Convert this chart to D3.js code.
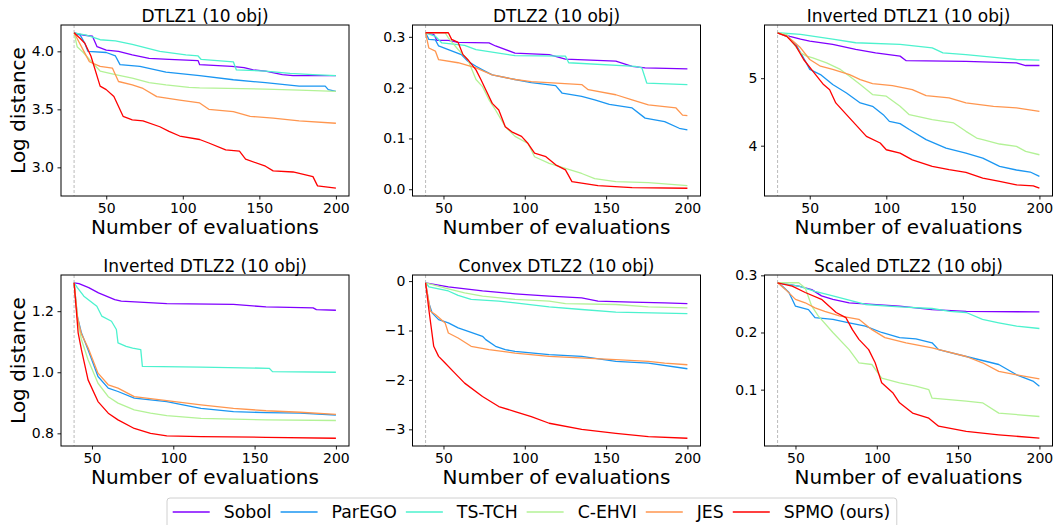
<!DOCTYPE html>
<html><head><meta charset="utf-8">
<script src="https://cdn.jsdelivr.net/npm/d3@7"></script>
<style>body{margin:0;background:#fff} text{font-family:"DejaVu Sans",sans-serif}</style>
</head><body><svg id="c" width="1060" height="525"></svg>
<script>
const methods = ["Sobol","ParEGO","TS-TCH","C-EHVI","JES","SPMO (ours)"];
const colors = ["#8000ff","#1a96f2","#4cf2ce","#b3f296","#ff964f","#ff0000"];
const titles = ["DTLZ1 (10 obj)","DTLZ2 (10 obj)","Inverted DTLZ1 (10 obj)","Inverted DTLZ2 (10 obj)","Convex DTLZ2 (10 obj)","Scaled DTLZ2 (10 obj)"];
const startEval = [29,39,29,39,39,39];
const xTicks = [50,100,150,200];
const yTicks = [[3.0,3.5,4.0],[0.0,0.1,0.2,0.3],[4,5],[0.8,1.0,1.2],[-3,-2,-1,0],[0.1,0.2,0.3]];
const yFormats = [".1f",".1f","d",".1f","d",".1f"];

// series order: Sobol, ParEGO, TS-TCH, C-EHVI, JES, SPMO
const dtlz1 = [
 [[29,4.16],[35,4.14],[41,4.13],[44,4.04],[50,4.01],[58,4.0],[67,3.97],[78,3.94],[91,3.93],[110,3.92],[111,3.885],[132,3.87],[140,3.86],[146,3.84],[154,3.83],[165,3.80],[172,3.79],[200,3.79]],
 [[29,4.16],[33,4.14],[36,4.07],[38,4.0],[50,3.99],[56,3.96],[59,3.885],[72,3.87],[89,3.82],[111,3.79],[133,3.755],[154,3.73],[176,3.70],[193,3.70],[195,3.67],[200,3.655]],
 [[29,4.16],[37,4.14],[46,4.10],[56,4.09],[67,4.06],[85,4.0],[102,3.97],[110,3.96],[112,3.93],[133,3.91],[135,3.84],[154,3.83],[170,3.81],[185,3.80],[200,3.79]],
 [[29,4.16],[31,4.04],[35,3.99],[39,3.93],[46,3.83],[56,3.80],[67,3.77],[78,3.73],[89,3.71],[104,3.69],[111,3.685],[154,3.675],[176,3.665],[200,3.655]],
 [[29,4.16],[35,4.01],[39,3.91],[46,3.87],[54,3.856],[58,3.74],[67,3.71],[74,3.68],[83,3.61],[98,3.58],[111,3.555],[117,3.50],[133,3.48],[144,3.44],[159,3.425],[176,3.40],[200,3.38]],
 [[29,4.16],[33,4.11],[36,4.07],[40,3.96],[46,3.70],[50,3.67],[55,3.61],[61,3.44],[67,3.41],[74,3.40],[85,3.35],[91,3.31],[98,3.27],[111,3.24],[117,3.21],[128,3.15],[137,3.14],[141,3.07],[154,3.01],[159,2.97],[172,2.96],[185,2.92],[188,2.84],[200,2.82]]
];
const dtlz2 = [
 [[39,0.308],[44,0.305],[46,0.293],[53,0.293],[59,0.289],[78,0.288],[82,0.282],[94,0.268],[115,0.265],[125,0.256],[156,0.252],[166,0.242],[174,0.239],[200,0.237]],
 [[39,0.308],[41,0.295],[45,0.294],[47,0.282],[53,0.275],[61,0.265],[65,0.252],[70,0.242],[74,0.235],[80,0.225],[94,0.216],[104,0.210],[119,0.204],[123,0.189],[135,0.183],[143,0.176],[152,0.167],[166,0.16],[174,0.14],[186,0.133],[195,0.12],[200,0.117]],
 [[39,0.308],[45,0.301],[49,0.288],[63,0.283],[70,0.275],[94,0.263],[125,0.262],[127,0.249],[168,0.242],[172,0.239],[175,0.209],[200,0.206]],
 [[39,0.308],[51,0.308],[53,0.298],[59,0.275],[65,0.255],[70,0.216],[74,0.202],[78,0.176],[82,0.156],[88,0.123],[94,0.104],[102,0.09],[106,0.064],[115,0.051],[125,0.041],[135,0.031],[143,0.021],[156,0.015],[176,0.013],[200,0.007]],
 [[39,0.308],[41,0.278],[45,0.272],[47,0.255],[59,0.249],[70,0.239],[80,0.225],[94,0.216],[104,0.212],[135,0.206],[139,0.196],[156,0.186],[166,0.176],[176,0.166],[193,0.16],[197,0.146],[200,0.145]],
 [[39,0.308],[53,0.308],[55,0.295],[59,0.289],[62,0.265],[65,0.255],[70,0.235],[73,0.216],[76,0.196],[80,0.169],[84,0.156],[88,0.123],[92,0.113],[98,0.104],[102,0.09],[106,0.071],[113,0.064],[119,0.048],[125,0.038],[129,0.015],[135,0.012],[145,0.007],[166,0.003],[200,0.002]]
];
const invDtlz1 = [
 [[29,5.673],[37,5.62],[44,5.58],[50,5.55],[65,5.50],[80,5.426],[93,5.376],[109,5.327],[113,5.26],[152,5.25],[185,5.228],[191,5.188],[200,5.188]],
 [[29,5.673],[35,5.62],[41,5.50],[46,5.30],[50,5.13],[57,5.054],[65,4.906],[74,4.78],[83,4.634],[91,4.584],[98,4.46],[102,4.36],[109,4.327],[115,4.24],[126,4.09],[139,3.965],[152,3.89],[163,3.817],[174,3.693],[185,3.64],[194,3.61],[200,3.545]],
 [[29,5.673],[44,5.65],[65,5.58],[80,5.525],[109,5.50],[130,5.45],[137,5.376],[152,5.35],[174,5.30],[185,5.277],[200,5.267]],
 [[29,5.673],[35,5.65],[39,5.525],[44,5.376],[48,5.327],[52,5.30],[61,5.228],[70,5.13],[76,5.03],[83,4.906],[91,4.757],[100,4.733],[109,4.584],[115,4.46],[130,4.386],[144,4.337],[152,4.213],[159,4.114],[163,4.09],[174,4.025],[185,3.99],[191,3.916],[200,3.866]],
 [[29,5.673],[35,5.62],[39,5.55],[44,5.45],[50,5.277],[57,5.178],[65,5.13],[76,5.054],[83,4.98],[91,4.92],[104,4.89],[117,4.83],[126,4.743],[141,4.71],[152,4.634],[170,4.584],[185,4.56],[200,4.51]],
 [[29,5.673],[35,5.62],[41,5.475],[46,5.277],[52,5.104],[59,4.906],[63,4.83],[67,4.634],[74,4.46],[80,4.312],[87,4.139],[96,4.04],[100,3.94],[109,3.89],[117,3.79],[130,3.693],[141,3.644],[152,3.604],[163,3.52],[174,3.47],[185,3.42],[196,3.406],[200,3.37]]
];
const invDtlz2 = [
 [[39,1.293],[42,1.29],[48,1.277],[54,1.26],[64,1.238],[68,1.233],[96,1.225],[137,1.222],[157,1.214],[186,1.211],[188,1.205],[200,1.203]],
 [[39,1.293],[41,1.184],[43.5,1.129],[47.6,1.074],[53.7,0.986],[60,0.948],[66,0.937],[76,0.915],[96,0.904],[106,0.893],[117,0.882],[137,0.871],[157,0.868],[178,0.866],[200,0.860]],
 [[39,1.293],[41,1.277],[45,1.249],[53,1.216],[56,1.184],[62,1.167],[65,1.14],[66,1.096],[71,1.085],[75,1.079],[80,1.074],[81,1.019],[117,1.017],[159,1.013],[161,1.002],[200,1.0]],
 [[39,1.293],[41.5,1.162],[43.5,1.107],[47.6,1.041],[53.7,0.964],[60,0.92],[66,0.899],[76,0.877],[86,0.866],[96,0.858],[117,0.849],[157,0.844],[200,0.842]],
 [[39,1.293],[41,1.18],[43.5,1.125],[47.6,1.08],[53.7,0.997],[60,0.959],[66,0.948],[76,0.92],[96,0.907],[117,0.893],[137,0.882],[157,0.874],[178,0.869],[200,0.862]],
 [[39,1.293],[41.5,1.129],[43.5,1.074],[47.6,0.975],[53.7,0.904],[60,0.866],[66,0.844],[76,0.816],[86,0.8],[96,0.792],[117,0.789],[157,0.787],[200,0.784]]
];
const convexDtlz2 = [
 [[39,-0.034],[53,-0.115],[74,-0.2],[94,-0.257],[115,-0.305],[135,-0.34],[145,-0.406],[166,-0.427],[186,-0.44],[200,-0.454]],
 [[39,-0.034],[41,-0.44],[43,-0.643],[47,-0.779],[53,-0.846],[59,-0.948],[67,-1.036],[74,-1.117],[76,-1.185],[82,-1.32],[88,-1.388],[94,-1.422],[115,-1.49],[135,-1.523],[156,-1.625],[176,-1.659],[200,-1.774]],
 [[39,-0.034],[41,-0.115],[53,-0.2],[59,-0.29],[67,-0.372],[84,-0.406],[94,-0.44],[115,-0.521],[135,-0.575],[156,-0.63],[200,-0.657]],
 [[39,-0.034],[53,-0.156],[63,-0.237],[74,-0.305],[94,-0.372],[115,-0.406],[125,-0.454],[156,-0.474],[176,-0.521],[200,-0.542]],
 [[39,-0.034],[42,-0.609],[45,-0.677],[51,-0.846],[53,-1.05],[59,-1.151],[67,-1.32],[78,-1.388],[94,-1.456],[115,-1.523],[156,-1.591],[176,-1.625],[186,-1.659],[200,-1.693]],
 [[39,-0.034],[41,-0.575],[44,-1.32],[47,-1.523],[51,-1.659],[57,-1.862],[63,-2.065],[74,-2.336],[84,-2.539],[94,-2.64],[104,-2.742],[115,-2.877],[135,-3.0],[156,-3.08],[176,-3.148],[200,-3.18]]
];
const scaledDtlz2 = [
 [[39,0.287],[52,0.281],[60,0.275],[66,0.264],[73,0.258],[83,0.252],[114,0.246],[134,0.24],[155,0.237],[200,0.236]],
 [[39,0.287],[42,0.281],[46,0.27],[50,0.246],[58,0.24],[62,0.226],[73,0.223],[83,0.217],[93,0.211],[103,0.2],[114,0.191],[124,0.189],[134,0.182],[138,0.17],[155,0.158],[175,0.144],[186,0.126],[196,0.115],[200,0.106]],
 [[39,0.287],[52,0.281],[62,0.272],[73,0.264],[93,0.249],[114,0.245],[134,0.242],[145,0.237],[155,0.235],[165,0.223],[175,0.217],[186,0.211],[200,0.207]],
 [[39,0.287],[52,0.287],[56,0.278],[60,0.246],[64,0.229],[73,0.2],[83,0.17],[89,0.147],[97,0.144],[103,0.12],[114,0.112],[124,0.106],[132,0.1],[134,0.085],[155,0.08],[165,0.077],[175,0.059],[200,0.053]],
 [[39,0.287],[44,0.275],[50,0.258],[56,0.252],[62,0.243],[68,0.237],[77,0.229],[89,0.223],[97,0.205],[105,0.191],[118,0.182],[134,0.173],[155,0.158],[165,0.147],[175,0.132],[186,0.126],[200,0.119]],
 [[39,0.287],[48,0.281],[56,0.27],[66,0.258],[75,0.235],[81,0.226],[85,0.205],[89,0.188],[95,0.17],[99,0.147],[103,0.112],[110,0.094],[114,0.077],[122,0.059],[132,0.05],[138,0.036],[155,0.027],[175,0.021],[200,0.015]]
];
const panelData = [dtlz1, dtlz2, invDtlz1, invDtlz2, convexDtlz2, scaledDtlz2];

const colLeft = [61, 412.5, 764.5], rowTop = [25, 275];
const W = 288, H = 171;
const svg = d3.select("#c");

panelData.forEach((series, i) => {
  const col = i % 3, row = Math.floor(i / 3);
  const g = svg.append("g").attr("transform", `translate(${colLeft[col]},${rowTop[row]})`);
  const s = startEval[i];
  const xr = 200 - s;
  const x = d3.scaleLinear().domain([s - 0.05 * xr, 200 + 0.05 * xr]).range([0, W]);
  const all = series.flat().map(d => d[1]);
  const [mn, mx] = d3.extent(all);
  const yr = mx - mn;
  const y = d3.scaleLinear().domain([mn - 0.05 * yr, mx + 0.05 * yr]).range([H, 0]);

  g.append("line").attr("x1", x(s)).attr("x2", x(s)).attr("y1", 0).attr("y2", H)
    .attr("stroke", "#aaa").attr("stroke-width", 0.8).attr("stroke-dasharray", "3,2");

  const line = d3.line().x(d => x(d[0])).y(d => y(d[1]));
  series.forEach((pts, k) => {
    g.append("path").datum(pts).attr("d", line).attr("fill", "none")
      .attr("stroke", colors[k]).attr("stroke-width", 1.3).attr("stroke-linejoin", "round");
  });

  const xa = g.append("g").attr("transform", `translate(0,${H})`)
    .call(d3.axisBottom(x).tickValues(xTicks).tickSize(3.5).tickPadding(3.5).tickFormat(d3.format("d")));
  const ya = g.append("g")
    .call(d3.axisLeft(y).tickValues(yTicks[i]).tickSize(3.5).tickPadding(3.5).tickFormat(d3.format(yFormats[i])));
  [xa, ya].forEach(a => {
    a.select(".domain").remove();
    a.selectAll("text").attr("font-size", "14px").attr("fill", "#000").style("font-family", "DejaVu Sans");
    a.selectAll("line").attr("stroke", "#000").attr("stroke-width", 0.9);
  });

  g.append("rect").attr("x", 0).attr("y", 0).attr("width", W).attr("height", H)
    .attr("fill", "none").attr("stroke", "#000").attr("stroke-width", 1);

  g.append("text").attr("x", W / 2).attr("y", -3).attr("text-anchor", "middle")
    .attr("font-size", "17px").text(titles[i]);
  g.append("text").attr("x", W / 2).attr("y", H + 37.5).attr("text-anchor", "middle")
    .attr("font-size", "20px").text("Number of evaluations");
  if (col === 0) {
    g.append("text").attr("transform", `translate(${25 - colLeft[col]},${H / 2}) rotate(-90)`)
      .attr("text-anchor", "middle").attr("font-size", "20px").text("Log distance");
  }
});

// legend
const leg = svg.append("g");
const box = leg.append("rect").attr("y", 498).attr("height", 34).attr("rx", 3)
  .attr("fill", "#fff").attr("stroke", "#d0d0d0").attr("stroke-width", 1);
let cx = 172.7;
methods.forEach((m, k) => {
  leg.append("line").attr("x1", cx).attr("x2", cx + 37).attr("y1", 512).attr("y2", 512)
    .attr("stroke", colors[k]).attr("stroke-width", 1.6);
  const t = leg.append("text").attr("x", cx + 51).attr("y", 518).attr("font-size", "17.3px").text(m);
  cx = cx + 51 + t.node().getComputedTextLength() + 9;
});
box.attr("x", 167).attr("width", cx - 9 + 6.5 - 167);
</script></body></html>
